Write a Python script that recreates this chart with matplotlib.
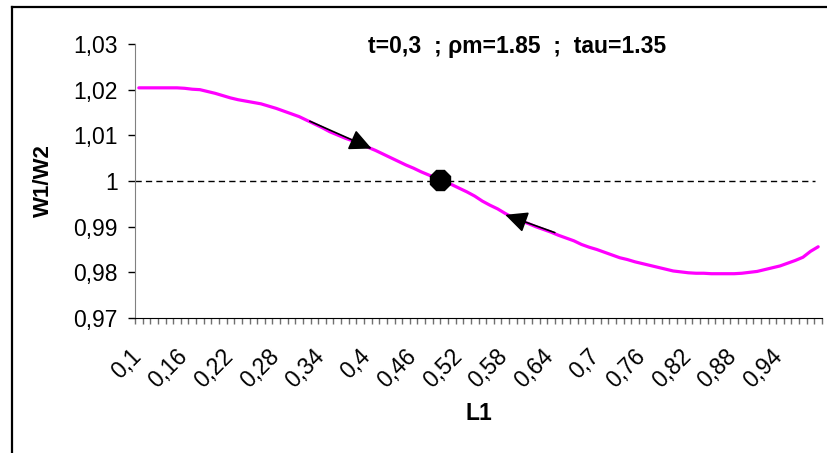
import numpy as np
import matplotlib
matplotlib.use('Agg')
import matplotlib.pyplot as plt
from matplotlib.lines import Line2D
from matplotlib.transforms import ScaledTranslation

plt.rcParams['font.family'] = ['Liberation Sans', 'DejaVu Sans']

# categories L1 = 0,10 ... 0,99
l1 = np.round(np.arange(10, 100) / 100, 2)

# W1/W2
ratio = [
    1.0204, 1.0204, 1.0204, 1.0204, 1.0204, 1.0204, 1.0203, 1.0201, 1.0200, 1.0196,
    1.0192, 1.0187, 1.0182, 1.0178, 1.0175, 1.0172, 1.0169, 1.0164, 1.0159, 1.0153,
    1.0147, 1.0141, 1.0133, 1.0125, 1.0117, 1.0108, 1.0101, 1.0094, 1.0088, 1.0081,
    1.0074, 1.0067, 1.0059, 1.0051, 1.0043, 1.0035, 1.0028, 1.0020, 1.0013, 1.0006,
    0.9999, 0.9992, 0.9984, 0.9976, 0.9967, 0.9956, 0.9947, 0.9939, 0.9929, 0.9920,
    0.9913, 0.9907, 0.9900, 0.9894, 0.9888, 0.9881, 0.9875, 0.9869, 0.9861, 0.9855,
    0.9850, 0.9844, 0.9838, 0.9832, 0.9828, 0.9823, 0.9819, 0.9815, 0.9811, 0.9807,
    0.9803, 0.9801, 0.9799, 0.9798, 0.9798, 0.9797, 0.9797, 0.9797, 0.9797, 0.9798,
    0.9800, 0.9802, 0.9806, 0.9810, 0.9814, 0.9820, 0.9826, 0.9833, 0.9846, 0.9856,
]

# equilibrium point and direction arrows (L1, W1/W2)
eq_point = (0.495, 1.0003)
arrow_tails = [(0.324, 1.0131), (0.645, 0.9887)]
arrow_tips = [(0.405, 1.0071), (0.580, 0.9926)]

y_ticks = [0.97, 0.98, 0.99, 1.00, 1.01, 1.02, 1.03]
title = 't=0,3  ; ρm=1.85  ;  tau=1.35'


def to_pos(v):
    # category position of an L1 value
    return (v - l1[0]) / 0.01


def comma(v):
    return f'{v:g}'.replace('.', ',')


W, H = 827, 453
fig = plt.figure(figsize=(W / 100, H / 100), dpi=100)
ax = fig.add_axes([135 / W, 1 - 318 / H, (822 - 135) / W, (318 - 44) / H])

x = np.arange(len(l1))
ax.plot(x, ratio, color='#FF00FF', lw=2.3, solid_capstyle='round', zorder=3)
ax.axhline(1.0, xmin=0, xmax=(815 - 135) / 687, color='black', lw=1, dashes=(4.5, 3), zorder=2)
ax.plot([to_pos(eq_point[0])], [eq_point[1]], marker='8', ms=15, color='black', zorder=5)

for (tx, ty), (hx, hy) in zip(arrow_tails, arrow_tips):
    ax.annotate('', xy=(to_pos(hx), hy), xytext=(to_pos(tx), ty),
                arrowprops=dict(arrowstyle='-|>,head_length=0.8,head_width=0.38',
                                mutation_scale=17, color='black', lw=1.2,
                                shrinkA=0, shrinkB=0), zorder=4)

ax.set_xlim(-0.5, len(l1) - 0.5)
ax.set_ylim(0.97, 1.03)
ax.set_yticks(y_ticks)
ax.set_yticklabels([comma(v) for v in y_ticks])
ax.set_xticks(x[::6])
ax.set_xticklabels([comma(v) for v in l1[::6]], rotation=45, ha='right', va='top',
                   rotation_mode='anchor')
ax.set_xticks(np.arange(-0.5, len(l1)), minor=True)

ax.tick_params(axis='x', which='major', length=0, pad=19, labelsize=16.5)
ax.tick_params(axis='x', which='minor', length=4, color='#707070', width=1)
ax.tick_params(axis='y', length=5, width=1, pad=7.5, labelsize=16.5, color='black')
off = ScaledTranslation(-9 / 100, 0, fig.dpi_scale_trans)
for lab in ax.get_xticklabels():
    lab.set_transform(lab.get_transform() + off)

for s in ['top', 'right']:
    ax.spines[s].set_visible(False)
ax.spines['left'].set_color('#808080')
ax.spines['bottom'].set_color('black')

fig.text(517 / W, 1 - 47 / H, title, ha='center', va='center', fontsize=16.5, fontweight='bold')
fig.text(43 / W, 1 - 181 / H, 'W1/W2', rotation=90, ha='center', va='center',
         fontsize=16, fontweight='bold')
fig.text(479 / W, 1 - 413 / H, 'L1', ha='center', va='center', fontsize=16.5, fontweight='bold')

# chart area border (left and top edges visible)
fig.add_artist(Line2D([12 / W, 12 / W], [0, 1 - 7 / H], transform=fig.transFigure,
                      color='black', lw=1.6))
fig.add_artist(Line2D([12 / W, 1], [1 - 7 / H, 1 - 7 / H], transform=fig.transFigure,
                      color='black', lw=1.6))

fig.savefig('out.png', dpi=100)
